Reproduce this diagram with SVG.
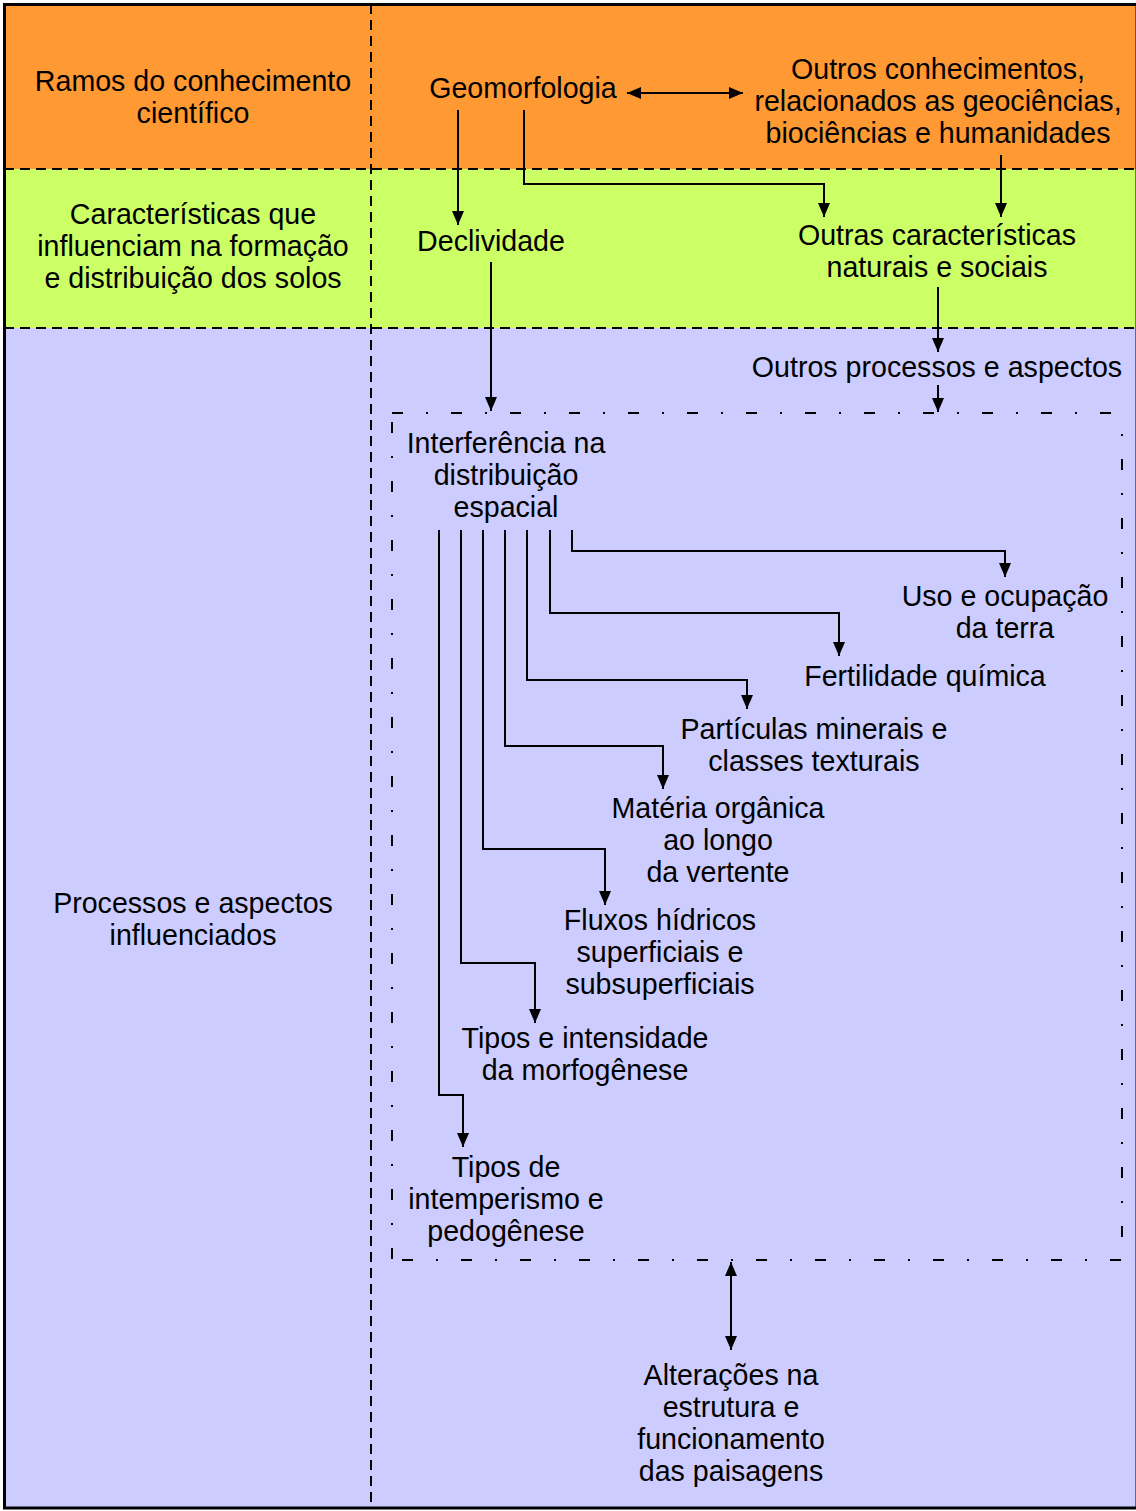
<svg xmlns="http://www.w3.org/2000/svg" width="1136" height="1511" viewBox="0 0 1136 1511">
<defs>
<marker id="ah" markerUnits="userSpaceOnUse" markerWidth="14" markerHeight="12" refX="14" refY="6" orient="auto-start-reverse">
<path d="M0,0 L14,6 L0,12 z" fill="#000"/>
</marker>
</defs>
<style>
text{font-family:"Liberation Sans",Arial,sans-serif;font-size:28.6px;fill:#000;text-anchor:middle}
.band{stroke:#000;stroke-width:2;stroke-dasharray:10 6;fill:none}
.box{stroke:#000;stroke-width:2;stroke-dasharray:11 23 2 23;fill:none}
.c{stroke:#000;stroke-width:2;fill:none;marker-end:url(#ah)}
.cc{stroke:#000;stroke-width:2;fill:none;marker-end:url(#ah);marker-start:url(#ah)}
</style>
<g id="background">
<rect x="4" y="4" width="1133" height="165" fill="#FF9933"/>
<rect x="4" y="169" width="1133" height="159" fill="#CCFF66"/>
<rect x="4" y="328" width="1133" height="1180" fill="#CCCCFF"/>
<line class="band" x1="4" y1="169" x2="1136" y2="169"/>
<line class="band" x1="4" y1="328" x2="1136" y2="328"/>
<line class="band" x1="371" y1="4" x2="371" y2="1508"/>
<rect x="4.5" y="4.5" width="1132.5" height="1503.5" fill="none" stroke="#000" stroke-width="3"/>
</g>
<g id="row-ramos">
<text x="193" y="91">Ramos do conhecimento</text>
<text x="193" y="123">científico</text>
</g>
<g id="row-caracteristicas">
<text x="193" y="224">Características que</text>
<text x="193" y="256">influenciam na formação</text>
<text x="193" y="288">e distribuição dos solos</text>
</g>
<g id="row-processos">
<text x="193" y="913">Processos e aspectos</text>
<text x="193" y="945">influenciados</text>
</g>
<g id="geomorfologia">
<text x="523" y="98">Geomorfologia</text>
</g>
<g id="outros-conhecimentos">
<text x="938" y="79">Outros conhecimentos,</text>
<text x="938" y="111">relacionados as geociências,</text>
<text x="938" y="143">biociências e humanidades</text>
</g>
<g id="declividade">
<text x="491" y="251">Declividade</text>
</g>
<g id="outras-caracteristicas">
<text x="937" y="245">Outras características</text>
<text x="937" y="277">naturais e sociais</text>
</g>
<g id="outros-processos">
<text x="937" y="377">Outros processos e aspectos</text>
</g>
<g id="interferencia-box">
<line class="box" x1="392" y1="413" x2="1122" y2="413"/>
<line class="box" x1="392" y1="1260" x2="1122" y2="1260" stroke-dashoffset="-10"/>
<line class="box" x1="392" y1="422" x2="392" y2="1260"/>
<line class="box" x1="1122" y1="427" x2="1122" y2="1260" stroke-dashoffset="27"/>
<text x="506" y="453">Interferência na</text>
<text x="506" y="485">distribuição</text>
<text x="506" y="517">espacial</text>
</g>
<g id="uso-ocupacao">
<text x="1005" y="606">Uso e ocupação</text>
<text x="1005" y="638">da terra</text>
</g>
<g id="fertilidade">
<text x="925" y="686">Fertilidade química</text>
</g>
<g id="particulas">
<text x="814" y="739">Partículas minerais e</text>
<text x="814" y="771">classes texturais</text>
</g>
<g id="materia-organica">
<text x="718" y="818">Matéria orgânica</text>
<text x="718" y="850">ao longo</text>
<text x="718" y="882">da vertente</text>
</g>
<g id="fluxos-hidricos">
<text x="660" y="930">Fluxos hídricos</text>
<text x="660" y="962">superficiais e</text>
<text x="660" y="994">subsuperficiais</text>
</g>
<g id="morfogenese">
<text x="585" y="1048">Tipos e intensidade</text>
<text x="585" y="1080">da morfogênese</text>
</g>
<g id="intemperismo">
<text x="506" y="1177">Tipos de</text>
<text x="506" y="1209">intemperismo e</text>
<text x="506" y="1241">pedogênese</text>
</g>
<g id="alteracoes">
<text x="731" y="1385">Alterações na</text>
<text x="731" y="1417">estrutura e</text>
<text x="731" y="1449">funcionamento</text>
<text x="731" y="1481">das paisagens</text>
</g>
<g id="connectors">
<path class="cc" d="M627,93 H743"/>
<path class="c" d="M458,110 V225"/>
<path class="c" d="M524,110 V184 H824 V217"/>
<path class="c" d="M1001,155 V217"/>
<path class="c" d="M491,262 V411"/>
<path class="c" d="M938,287 V352"/>
<path class="c" d="M938,385 V412"/>
<path class="c" d="M572,530 V551 H1005 V577"/>
<path class="c" d="M550,530 V613 H839 V656"/>
<path class="c" d="M527,530 V680 H747 V709"/>
<path class="c" d="M505,530 V746 H663 V789"/>
<path class="c" d="M483,530 V849 H605 V905"/>
<path class="c" d="M461,530 V963 H535 V1023"/>
<path class="c" d="M439,530 V1095 H463 V1147"/>
<path class="cc" d="M731,1262 V1350"/>
</g>
</svg>
